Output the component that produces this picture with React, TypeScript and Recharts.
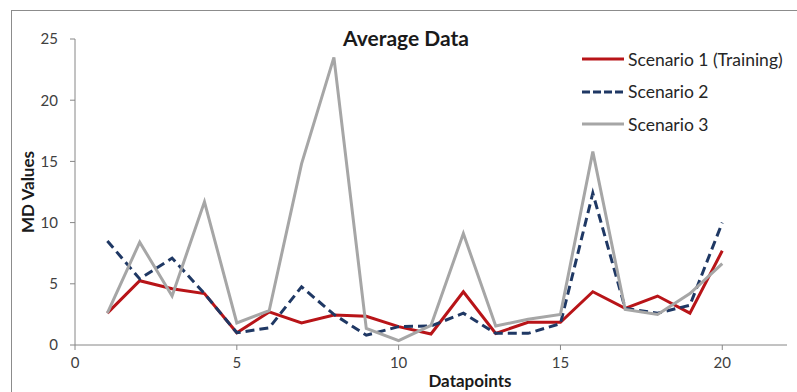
import React from "react";
import { LineChart, Line, XAxis, YAxis } from "recharts";

const datapoints = [1, 2, 3, 4, 5, 6, 7, 8, 9, 10, 11, 12, 13, 14, 15, 16, 17, 18, 19, 20];
const scenario1 = [2.6, 5.25, 4.6, 4.2, 1.0, 2.7, 1.8, 2.45, 2.35, 1.5, 0.9, 4.35, 0.95, 1.85, 1.85, 4.35, 3.0, 4.0, 2.6, 7.7];
const scenario2 = [8.5, 5.4, 7.1, 4.2, 1.0, 1.4, 4.75, 2.5, 0.8, 1.5, 1.55, 2.6, 0.95, 0.95, 1.75, 12.4, 3.0, 2.6, 3.25, 10.0];
const scenario3 = [2.6, 8.4, 4.0, 11.7, 1.8, 2.8, 14.8, 23.5, 1.35, 0.35, 1.6, 9.1, 1.55, 2.1, 2.5, 15.8, 2.9, 2.5, 4.2, 6.65];
const xTicks = [0, 5, 10, 15, 20];
const yTicks = [0, 5, 10, 15, 20, 25];

const SERIES = [
  { key: "s1", name: "Scenario 1 (Training)", color: "#B81418", dash: undefined },
  { key: "s2", name: "Scenario 2", color: "#1F3864", dash: "9 5" },
  { key: "s3", name: "Scenario 3", color: "#A6A6A6", dash: undefined },
];

const data = datapoints.map((x, i) => ({
  x,
  s1: scenario1[i],
  s2: scenario2[i],
  s3: scenario3[i],
}));

const FONT = "Lato, 'Open Sans', sans-serif";
const AXIS = "#868686";

// legend drawn as html so it doesn't eat into the plot area
const ChartLegend = () => (
  <div
    style={{
      position: "absolute",
      left: 582,
      top: 43,
      fontFamily: FONT,
      fontSize: 17.5,
      color: "#262626",
    }}
  >
    {SERIES.map((s) => (
      <div key={s.key} style={{ display: "flex", alignItems: "center", height: 32.5 }}>
        <svg width={44} height={6} style={{ marginRight: 2 }}>
          <line
            x1={0}
            y1={3}
            x2={42}
            y2={3}
            stroke={s.color}
            strokeWidth={3}
            strokeDasharray={s.dash ? "8 3" : undefined}
          />
        </svg>
        <span>{s.name}</span>
      </div>
    ))}
  </div>
);

export default function App() {
  return (
    <div
      style={{
        position: "absolute",
        left: 0,
        top: 0,
        width: 797,
        height: 392,
        overflow: "hidden",
        background: "#fff",
      }}
    >
      <div
        style={{
          position: "absolute",
          left: 11,
          top: 10,
          width: 820,
          height: 420,
          border: "1px solid #8c8c8c",
        }}
      />
      <LineChart
        width={797}
        height={392}
        data={data}
        margin={{ top: 39, right: 10, bottom: 17, left: 20 }}
      >
        <XAxis
          dataKey="x"
          type="number"
          domain={[0, 22]}
          ticks={xTicks}
          stroke={AXIS}
          tickSize={5}
          tickMargin={7}
          height={30}
          tick={{ fill: "#404040", fontSize: 15, fontFamily: FONT }}
        />
        <YAxis
          type="number"
          domain={[0, 25]}
          ticks={yTicks}
          stroke={AXIS}
          tickSize={5}
          tickMargin={12}
          width={55}
          tick={{ fill: "#404040", fontSize: 15, fontFamily: FONT }}
        />
        {SERIES.map((s) => (
          <Line
            key={s.key}
            dataKey={s.key}
            name={s.name}
            stroke={s.color}
            strokeWidth={3}
            strokeDasharray={s.dash}
            dot={false}
            activeDot={false}
            isAnimationActive={false}
          />
        ))}
      </LineChart>
      <ChartLegend />
      <div
        style={{
          position: "absolute",
          left: 306,
          top: 25,
          width: 200,
          textAlign: "center",
          fontFamily: FONT,
          fontWeight: 700,
          fontSize: 21,
          color: "#1a1a1a",
        }}
      >
        Average Data
      </div>
      <div
        style={{
          position: "absolute",
          left: 370,
          top: 370,
          width: 200,
          textAlign: "center",
          fontFamily: FONT,
          fontWeight: 700,
          fontSize: 17,
          color: "#1a1a1a",
        }}
      >
        Datapoints
      </div>
      <div
        style={{
          position: "absolute",
          left: 28 - 60,
          top: 192 - 11,
          width: 120,
          height: 22,
          lineHeight: "22px",
          textAlign: "center",
          transform: "rotate(-90deg)",
          fontFamily: FONT,
          fontWeight: 700,
          fontSize: 17,
          color: "#1a1a1a",
        }}
      >
        MD Values
      </div>
    </div>
  );
}
